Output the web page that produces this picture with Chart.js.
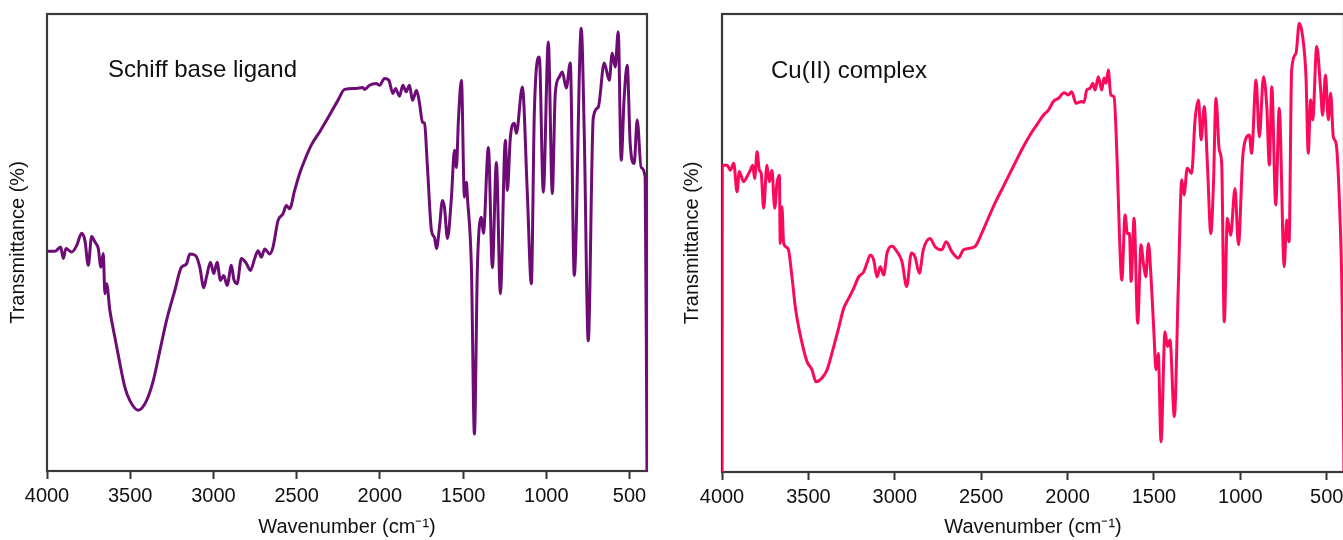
<!DOCTYPE html>
<html>
<head>
<meta charset="utf-8">
<title>FT-IR spectra</title>
<script src="https://cdn.jsdelivr.net/npm/chart.js@4.4.1/dist/chart.umd.min.js"></script>
<style>
  html, body { margin: 0; padding: 0; background: #fff; overflow: hidden; }
  body { width: 1343px; height: 540px; position: relative; }
  canvas { position: absolute; top: 0; }
  #ligand { left: 0; }
  #complex { left: 672px; }
</style>
</head>
<body>
<canvas id="ligand" width="670" height="540"></canvas>
<canvas id="complex" width="700" height="540"></canvas>
<script>
// tick labels on the wavenumber axis
var xTicks = [4000, 3500, 3000, 2500, 2000, 1500, 1000, 500];

// Schiff base ligand
var ligandWavenumber = [4000, 3952, 3918, 3902, 3886, 3852, 3822, 3792, 3772, 3752, 3732, 3712, 3692, 3676, 3662, 3652, 3642, 3622, 3592, 3562,
  3532, 3502, 3452, 3402, 3362, 3322, 3282, 3232, 3192, 3162, 3142, 3106, 3082, 3058, 3042, 3018, 2998, 2978, 2958, 2938,
  2918, 2892, 2878, 2858, 2832, 2802, 2778, 2752, 2732, 2712, 2692, 2662, 2642, 2612, 2582, 2562, 2542, 2512, 2482, 2452,
  2412, 2362, 2302, 2252, 2212, 2142, 2102, 2092, 2062, 2022, 2002, 1972, 1946, 1922, 1906, 1882, 1862, 1842, 1822, 1804,
  1780, 1762, 1744, 1732, 1714, 1690, 1672, 1660, 1642, 1624, 1612, 1594, 1570, 1552, 1540, 1528, 1510, 1492, 1480, 1474,
  1450, 1432, 1414, 1390, 1378, 1348, 1324, 1300, 1276, 1246, 1234, 1216, 1192, 1180, 1144, 1114, 1090, 1072, 1042, 1018,
  988, 964, 946, 922, 904, 880, 856, 832, 790, 772, 748, 718, 688, 652, 622, 604, 586, 568, 550, 532,
  514, 496, 472, 454, 430, 406, 395];
var ligandTransmittance = [48.1, 48.1, 49.0, 46.5, 48.7, 47.9, 49.3, 52.0, 50.4, 45.0, 51.3, 50.1, 48.7, 44.6, 47.6, 38.8, 41.0, 35.1, 29.2, 23.5,
  18.3, 15.4, 13.3, 15.4, 19.7, 26.3, 32.9, 39.5, 44.6, 45.3, 47.5, 47.1, 44.6, 40.1, 42.4, 45.7, 43.2, 45.7, 41.7, 42.8,
  40.6, 45.0, 42.0, 41.0, 46.5, 45.4, 43.9, 46.5, 48.2, 46.8, 48.6, 47.5, 49.0, 54.8, 56.3, 58.1, 57.4, 61.4, 65.1, 68.0,
  71.3, 74.2, 77.9, 81.1, 83.5, 83.7, 83.9, 83.5, 84.4, 84.8, 84.4, 85.9, 85.5, 82.6, 83.7, 82.0, 84.4, 83.0, 84.4, 81.1,
  83.3, 80.5, 76.3, 76.1, 66.4, 52.6, 51.1, 48.7, 53.3, 59.2, 57.7, 50.9, 59.9, 70.2, 66.4, 76.8, 85.5, 59.9, 63.2, 59.9,
  44.5, 8.1, 44.5, 55.5, 52.0, 70.8, 44.5, 67.5, 38.8, 72.4, 61.4, 73.0, 76.1, 73.9, 84.0, 60.7, 41.0, 78.3, 90.6, 61.0,
  93.9, 60.7, 82.7, 86.2, 87.3, 83.8, 89.3, 42.8, 96.9, 73.9, 28.5, 77.2, 79.6, 89.3, 85.5, 91.4, 88.4, 96.1, 68.0, 81.8,
  88.8, 71.7, 67.3, 76.8, 66.4, 64.3, 0];

// Cu(II) complex
var complexWavenumber = [4000, 3998, 3971, 3952, 3932, 3913, 3900, 3875, 3855, 3836, 3822, 3811, 3797, 3784, 3773, 3759, 3740, 3726, 3711, 3695,
  3682, 3668, 3663, 3653, 3643, 3618, 3595, 3576, 3553, 3527, 3508, 3479, 3456, 3421, 3392, 3359, 3325, 3296, 3267, 3238,
  3209, 3180, 3161, 3142, 3122, 3103, 3084, 3064, 3045, 3016, 2987, 2958, 2931, 2904, 2883, 2858, 2835, 2796, 2767, 2728,
  2703, 2670, 2632, 2603, 2574, 2536, 2497, 2459, 2420, 2372, 2314, 2256, 2217, 2178, 2140, 2111, 2082, 2053, 2020, 1996,
  1976, 1951, 1918, 1905, 1889, 1870, 1854, 1841, 1822, 1802, 1789, 1777, 1764, 1750, 1731, 1712, 1700, 1686, 1667, 1654,
  1642, 1632, 1615, 1594, 1575, 1561, 1547, 1532, 1517, 1500, 1488, 1475, 1459, 1436, 1422, 1407, 1382, 1359, 1339, 1326,
  1307, 1282, 1262, 1242, 1227, 1209, 1190, 1171, 1156, 1141, 1122, 1108, 1093, 1075, 1056, 1031, 1011, 986, 963, 948,
  935, 909, 890, 866, 847, 832, 818, 795, 775, 746, 732, 718, 703, 678, 659, 639, 620, 607, 593, 581,
  558, 535, 524, 507, 491, 477, 462, 446, 427, 411, 400];
var complexTransmittance = [0, 67.0, 67.0, 65.9, 67.4, 61.2, 65.6, 63.4, 64.5, 65.9, 67.0, 64.1, 69.9, 65.9, 65.2, 57.6, 67.0, 63.4, 65.9, 57.6,
  63.0, 64.8, 49.9, 57.9, 49.9, 48.8, 42.6, 36.1, 31.0, 26.6, 24.1, 22.3, 19.7, 20.5, 22.3, 26.6, 31.4, 35.7, 37.9, 40.1,
  42.6, 43.7, 45.6, 47.4, 46.3, 42.6, 44.8, 43.0, 47.8, 49.3, 48.1, 45.9, 40.5, 47.8, 47.0, 43.4, 48.5, 51.0, 49.2, 48.5,
  50.3, 48.1, 46.7, 48.5, 48.8, 49.2, 52.1, 55.4, 58.7, 62.3, 66.7, 71.0, 73.6, 75.8, 77.9, 79.0, 80.9, 81.6, 82.8, 82.3,
  83.0, 80.5, 80.9, 80.7, 83.4, 83.8, 84.9, 83.4, 86.3, 83.4, 86.0, 84.9, 87.8, 82.3, 81.9, 66.7, 52.1, 41.9, 56.1, 52.1,
  52.1, 41.6, 55.4, 32.5, 49.6, 45.6, 42.6, 49.9, 42.6, 30.3, 22.3, 25.9, 6.6, 30.6, 27.4, 28.8, 12.1, 40.5, 63.8, 60.5,
  66.3, 65.2, 76.9, 81.2, 72.5, 79.8, 66.7, 52.1, 62.3, 81.6, 70.3, 67.4, 32.8, 55.4, 51.7, 61.9, 49.6, 68.8, 73.2, 73.6,
  69.6, 85.6, 73.2, 86.3, 79.8, 67.0, 84.1, 58.3, 79.4, 44.8, 55.0, 50.3, 87.8, 91.4, 98.0, 95.0, 86.3, 69.6, 81.2, 76.9,
  92.9, 83.4, 77.9, 86.7, 76.9, 82.7, 73.2, 71.8, 59.4, 37.6, 0];

var FONT = "'Liberation Sans', Arial, Helvetica, sans-serif";

// box round the plot area plus the sample name in the corner
var framePlugin = {
  id: 'frame',
  beforeDatasetsDraw: function(chart, args, opts) {
    var a = chart.chartArea, ctx = chart.ctx;
    ctx.save();
    ctx.strokeStyle = '#3a3a3a';
    ctx.lineWidth = 2.2;
    ctx.strokeRect(a.left, a.top, a.right - a.left, a.bottom - a.top);
    ctx.restore();
  },
  afterDraw: function(chart, args, opts) {
    var a = chart.chartArea, ctx = chart.ctx;
    ctx.save();
    ctx.fillStyle = '#111';
    ctx.font = '24px ' + FONT;
    ctx.textBaseline = 'alphabetic';
    ctx.fillText(opts.text, a.left + opts.dx, a.top + opts.dy);
    ctx.restore();
  }
};

function makePanel(id, xs, ys, color, name, cfg) {
  var points = [];
  for (var i = 0; i < xs.length; i++) {
    points.push({ x: xs[i], y: ys[i] });
  }

  return new Chart(document.getElementById(id), {
    type: 'line',
    data: {
      datasets: [{
        label: name,
        data: points,
        borderColor: color,
        borderWidth: 3,
        pointRadius: 0,
        cubicInterpolationMode: 'monotone',
        borderJoinStyle: 'round',
        borderCapStyle: 'round',
        fill: false
      }]
    },
    options: {
      responsive: false,
      animation: false,
      events: [],
      layout: { padding: { left: 0, top: 14, right: cfg.padRight, bottom: 0 } },
      plugins: {
        legend: { display: false },
        tooltip: { enabled: false },
        frame: { text: name, dx: cfg.textDx, dy: cfg.textDy }
      },
      scales: {
        x: {
          type: 'linear',
          reverse: true,
          min: cfg.xMin,
          max: 4000,
          afterBuildTicks: function(scale) {
            scale.ticks = xTicks.map(function(v) { return { value: v }; });
          },
          afterFit: function(scale) { scale.height = cfg.xHeight; },
          ticks: {
            autoSkip: false,
            maxRotation: 0,
            padding: 5,
            color: '#111',
            font: { family: FONT, size: 20 },
            callback: function(v) { return String(v); }
          },
          grid: {
            display: true,
            drawOnChartArea: false,
            drawTicks: true,
            tickLength: 8,
            tickWidth: 2,
            tickColor: '#333'
          },
          border: { display: false },
          title: {
            display: true,
            text: 'Wavenumber (cm\u207B\u00B9)',
            color: '#111',
            font: { family: FONT, size: 20 },
            padding: { top: 0, bottom: 1 }
          }
        },
        y: {
          min: 0,
          max: 100,
          afterFit: function(scale) { scale.width = cfg.yWidth; },
          ticks: { display: false },
          grid: { display: false },
          border: { display: false },
          title: {
            display: true,
            text: 'Transmittance (%)',
            color: '#111',
            font: { family: FONT, size: 20 },
            padding: { top: cfg.yTitlePad, bottom: 0 }
          }
        }
      }
    },
    plugins: [framePlugin]
  });
}

makePanel('ligand', ligandWavenumber, ligandTransmittance, '#6e0c76', 'Schiff base ligand',
  { xMin: 395, padRight: 23, xHeight: 69, yWidth: 47, yTitlePad: 6.5, textDx: 61, textDy: 63 });

makePanel('complex', complexWavenumber, complexTransmittance, '#fb0a5c', 'Cu(II) complex',
  { xMin: 400, padRight: 28, xHeight: 68, yWidth: 50, yTitlePad: 8.5, textDx: 49, textDy: 64 });
</script>
</body>
</html>
